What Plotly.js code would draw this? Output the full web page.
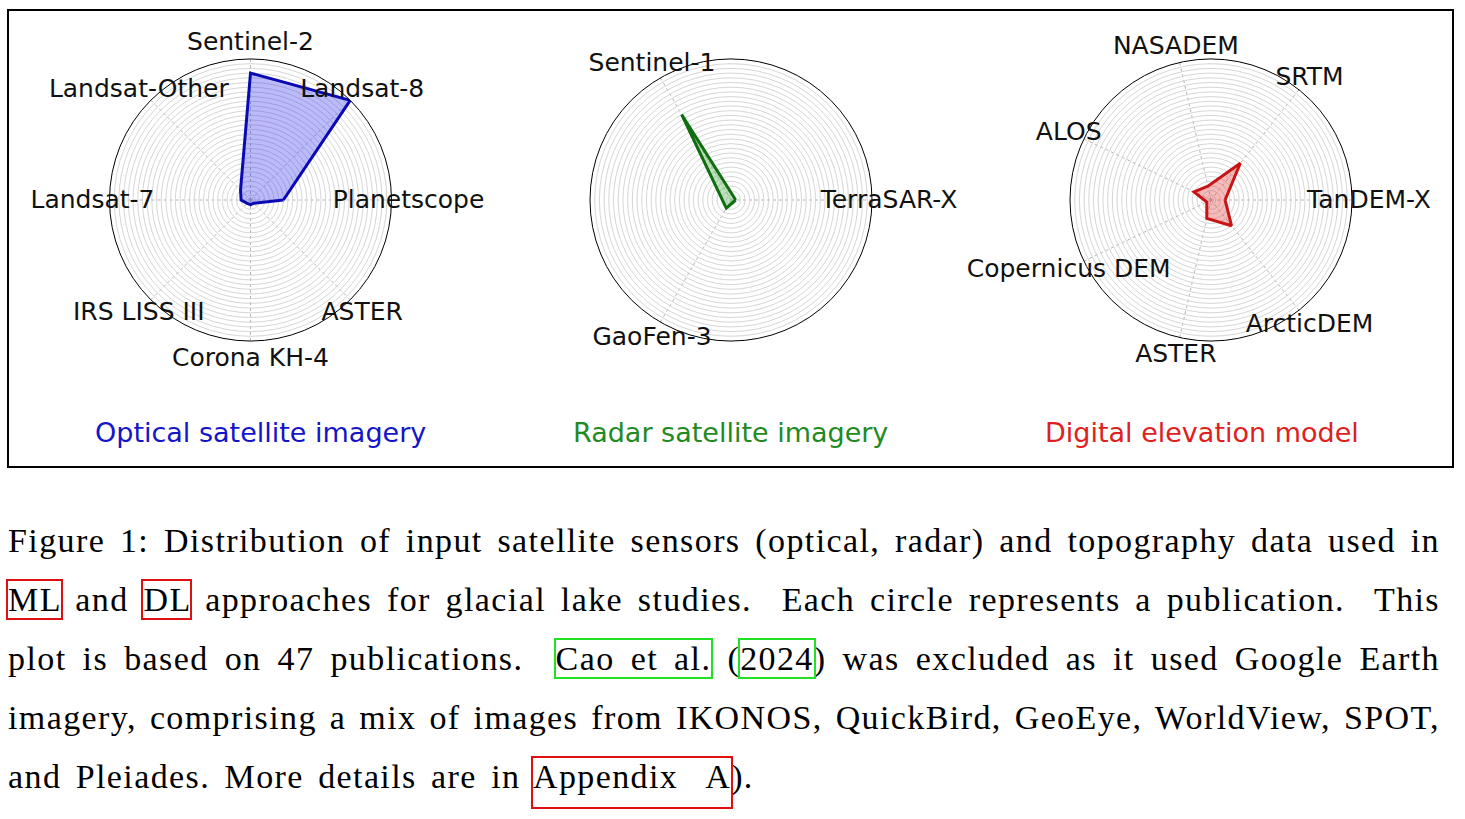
<!DOCTYPE html>
<html><head><meta charset="utf-8">
<script src="https://cdn.plot.ly/plotly-3.0.1.min.js"></script>
<style>
html,body{margin:0;padding:0;background:#fff;}
#wrap{position:relative;width:1465px;height:819px;overflow:hidden;}
#chart{position:absolute;left:0;top:0;width:1465px;height:819px;}
#caption{position:absolute;left:8px;top:511px;width:1432px;font-family:"Liberation Serif","Times New Roman",serif;font-size:34px;letter-spacing:1.4px;line-height:59px;color:#000;}
.ln{text-align:justify;text-align-last:justify;white-space:nowrap;}
.last{text-align:left;text-align-last:left;word-spacing:4.5px;}
.rb{outline:2.5px solid #e01010;outline-offset:0px;}
.gb{outline:2.5px solid #22e022;outline-offset:0px;}
.tall{padding-bottom:12px;}
</style></head>
<body>
<div id="wrap">
<div id="chart"></div>
<div id="caption">
<div class="ln">Figure 1: Distribution of input satellite sensors (optical, radar) and topography data used in</div>
<div class="ln"><span class="rb">ML</span> and <span class="rb">DL</span> approaches for glacial lake studies.&nbsp; Each circle represents a publication.&nbsp; This</div>
<div class="ln">plot is based on 47 publications.&nbsp; <span class="gb">Cao et al.</span> (<span class="gb">2024</span>) was excluded as it used Google Earth</div>
<div class="ln">imagery, comprising a mix of images from IKONOS, QuickBird, GeoEye, WorldView, SPOT,</div>
<div class="ln last">and Pleiades. More details are in <span class="rb tall">Appendix&nbsp; A</span>).</div>
</div>
</div>
<script>
// ---- data ----
const optCats = ['Planetscope', 'Landsat-8', 'Sentinel-2', 'Landsat-Other', 'Landsat-7', 'IRS LISS III', 'Corona KH-4', 'ASTER'];
const optVals = [7, 30, 27, 3, 2, 1, 1, 1];
const radCats = ['TerraSAR-X', 'Sentinel-1', 'GaoFen-3'];
const radVals = [1, 21, 2];
const demCats = ['TanDEM-X', 'SRTM', 'NASADEM', 'ALOS', 'Copernicus DEM', 'ASTER', 'ArcticDEM'];
const demVals = [3, 10, 3, 4, 1, 4, 7];
const panelTitles = ['Optical satellite imagery', 'Radar satellite imagery', 'Digital elevation model'];
const rMax = 30;

// ---- styles / layout ----
const W = 1465, H = 819;
const centers = [[250.5, 200], [731, 200], [1211, 200]];
const R = 141, RL = 158, labelDy = 2;
const titleX = [260.5, 730.5, 1201.5];
const titleColors = ['#1414c8', '#228a22', '#e02020'];
const lineColors = ['#0a0ab4', '#0f6e0f', '#c81414'];
const fillColors = ['rgba(30,30,235,0.30)', 'rgba(40,160,40,0.30)', 'rgba(225,40,40,0.32)'];
const sets = [[optCats, optVals], [radCats, radVals], [demCats, demVals]];

function dom(c, r, dy) {
  const cy = c[1] + (dy || 0);
  return {x: [(c[0] - r) / W, (c[0] + r) / W], y: [1 - (cy + r) / H, 1 - (cy - r) / H]};
}

const traces = [];
const layout = {
  width: W, height: H, margin: {l: 0, r: 0, t: 0, b: 0},
  paper_bgcolor: 'white', showlegend: false,
  font: {family: 'DejaVu Sans'},
  shapes: [{type: 'rect', xref: 'paper', yref: 'paper', x0: 8 / W, x1: 1453 / W, y0: 1 - 467 / H, y1: 1 - 10 / H,
            line: {color: '#000', width: 2}}],
  annotations: []
};

sets.forEach(function (s, i) {
  const cats = s[0], vals = s[1];
  const dn = 'polar' + (i === 0 ? '' : (i + 1));
  const ln = 'polar' + (i + 4);
  layout[dn] = {
    domain: dom(centers[i], R), bgcolor: 'white',
    radialaxis: {range: [0, rMax], tick0: 0, dtick: 1, showticklabels: false, ticks: '', showline: false,
                 gridcolor: '#d6d6d6', gridwidth: 1},
    angularaxis: {type: 'category', categoryarray: cats, rotation: 0, direction: 'counterclockwise',
                  showticklabels: false, ticks: '', showline: true, linecolor: '#000', linewidth: 1,
                  gridcolor: '#b4b4b4', griddash: 'dot', gridwidth: 1}
  };
  layout[ln] = {
    domain: dom(centers[i], RL, labelDy), bgcolor: 'rgba(0,0,0,0)',
    radialaxis: {range: [0, 1], visible: false},
    angularaxis: {type: 'category', categoryarray: cats, rotation: 0, direction: 'counterclockwise', visible: false}
  };
  traces.push({
    type: 'scatterpolar', subplot: dn,
    r: vals.concat([vals[0]]), theta: cats.concat([cats[0]]),
    mode: 'lines', fill: 'toself', fillcolor: fillColors[i],
    line: {color: lineColors[i], width: 3}, hoverinfo: 'r+theta'
  });
  traces.push({
    type: 'scatterpolar', subplot: ln,
    r: cats.map(function () { return 1; }), theta: cats,
    mode: 'text', text: cats, textposition: 'middle center', cliponaxis: false,
    textfont: {family: 'DejaVu Sans', size: 25, color: '#111'}, hoverinfo: 'skip'
  });
  layout.annotations.push({
    xref: 'paper', yref: 'paper', x: titleX[i] / W, y: 1 - 432 / H, xanchor: 'center', yanchor: 'middle',
    text: panelTitles[i], showarrow: false, font: {family: 'DejaVu Sans', size: 27, color: titleColors[i]}
  });
});

Plotly.newPlot('chart', traces, layout, {displayModeBar: false, staticPlot: true});
</script>
</body></html>
